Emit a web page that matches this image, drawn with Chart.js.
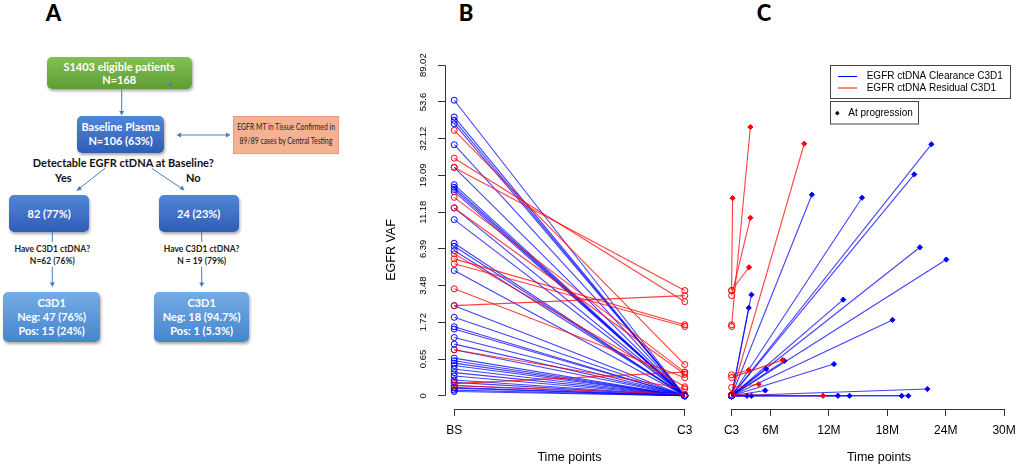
<!DOCTYPE html>
<html><head><meta charset="utf-8">
<script src="https://cdn.jsdelivr.net/npm/chart.js@4.4.1/dist/chart.umd.min.js"></script>
<style>
html,body{margin:0;padding:0;background:#fff;}
#root{position:relative;width:1020px;height:465px;overflow:hidden;font-family:Lato,'Open Sans',sans-serif;}
.t{position:absolute;transform:translate(-50%,-50%);white-space:nowrap;line-height:1;}
.box{position:absolute;display:flex;flex-direction:column;align-items:center;justify-content:center;color:#fff;font-weight:700;font-size:11px;border-radius:5px;box-shadow:1px 2px 3px rgba(0,0,0,.35);text-align:center;white-space:nowrap;}
.green{background:linear-gradient(#84bf52,#5f9e36);}
.dblue{background:linear-gradient(#5286d8,#2f5db5);}
.lblue{background:linear-gradient(#74ace6,#4585cd);}
.orange{background:#f6b190;border:1px solid #e59f7e;border-radius:0;box-shadow:none;color:#222;font-weight:400;font-size:8.6px;}
.orange span{display:inline-block;transform:scaleX(0.8);}
.panel{font-family:Lato,sans-serif;font-weight:900;font-size:22px;color:#000;}
canvas{position:absolute;}
</style></head>
<body><div id="root">
  <div class="t panel" style="left:53.5px;top:13px">A</div>
  <div class="t panel" style="left:466px;top:13px">B</div>
  <div class="t panel" style="left:764px;top:13px">C</div>

  <div class="box green" style="left:46.7px;top:57.3px;width:145px;height:32px;line-height:13.6px;">S1403 eligible patients<br>N=168</div>
  <div class="box dblue" style="left:77.3px;top:115.7px;width:86.7px;height:37px;line-height:14px;">Baseline Plasma<br>N=106 (63%)</div>
  <div class="box orange" style="left:232.7px;top:115.5px;width:104px;height:36px;line-height:13.4px;"><span>EGFR MT in Tissue Confirmed in</span><span>89/89 cases by Central Testing</span></div>
  <div class="t" style="left:123.3px;top:161.7px;font-weight:700;font-size:11px;color:#111;">Detectable EGFR ctDNA at Baseline?</div>
  <div class="t" style="left:63.3px;top:177px;font-weight:700;font-size:11px;color:#111;">Yes</div>
  <div class="t" style="left:193.3px;top:177px;font-weight:700;font-size:11px;color:#111;">No</div>
  <div class="box dblue" style="left:9.3px;top:195px;width:79.7px;height:36.7px;">82 (77%)</div>
  <div class="box dblue" style="left:158.7px;top:195px;width:80px;height:36.7px;">24 (23%)</div>
  <div class="t" style="left:52.3px;top:249px;font-weight:700;font-size:8.5px;color:#222;">Have C3D1 ctDNA?</div>
  <div class="t" style="left:52.3px;top:260.7px;font-weight:700;font-size:8.5px;color:#222;">N=62 (76%)</div>
  <div class="t" style="left:201.7px;top:249px;font-weight:700;font-size:8.5px;color:#222;">Have C3D1 ctDNA?</div>
  <div class="t" style="left:201.7px;top:260.7px;font-weight:700;font-size:8.5px;color:#222;">N = 19 (79%)</div>
  <div class="box lblue" style="left:3.3px;top:291.7px;width:96.7px;height:50px;line-height:14px;">C3D1<br>Neg: 47 (76%)<br>Pos: 15 (24%)</div>
  <div class="box lblue" style="left:154px;top:291.7px;width:95.3px;height:50px;line-height:14px;">C3D1<br>Neg: 18 (94.7%)<br>Pos: 1 (5.3%)</div>

  <svg width="380" height="465" style="position:absolute;left:0;top:0;" xmlns="http://www.w3.org/2000/svg">
    <g stroke="#4a7ebb" stroke-width="1" fill="none">
      <line x1="121.7" y1="89.3" x2="121.7" y2="112"/>
      <line x1="180" y1="135" x2="227" y2="135"/>
      <line x1="105" y1="168.3" x2="80" y2="188"/>
      <line x1="151.7" y1="168.3" x2="181" y2="188"/>
      <line x1="52.3" y1="231.7" x2="52.3" y2="242"/>
      <line x1="52.3" y1="266.7" x2="52.3" y2="283"/>
      <line x1="201.7" y1="231.7" x2="201.7" y2="242"/>
      <line x1="201.7" y1="266.7" x2="201.7" y2="283"/>
    </g>
    <g fill="#4a7ebb">
      <polygon points="119.2,111 124.2,111 121.7,115.5"/>
      <polygon points="176.5,135 181,132.5 181,137.5"/>
      <polygon points="230.5,135 226,132.5 226,137.5"/>
      <polygon points="76.5,191 79,186 82,189.5"/>
      <polygon points="184.5,190.5 179.5,189 182.5,185.5"/>
      <polygon points="49.8,282.5 54.8,282.5 52.3,287"/>
      <polygon points="199.2,282.5 204.2,282.5 201.7,287"/>
      <polygon points="167,85 172,82.5 172,87.5"/>
    </g>
  </svg>

  <canvas id="cb" width="320" height="425" style="left:380px;top:40px;width:320px;height:425px;"></canvas>
  <canvas id="cc" width="320" height="425" style="left:700px;top:40px;width:320px;height:425px;"></canvas>
</div>
<script>
// ---------- data ----------
// Y axis: EGFR VAF (%), plotted on log(1+VAF) scale
const yTickVals   = [0, 0.5, 1, 1.5, 2, 2.5, 3, 3.5, 4, 4.5];
const yTickLabels = ['0','0.65','1.72','3.48','6.39','11.18','19.09','32.12','53.6','89.02'];
// Panel B
const bTimeVals   = [1, 2];
const bTimeLabels = ['BS', 'C3'];
const bsRed  = [36.1, 24.4, 21.4, 13.9, 11.9, 5.90, 5.45, 5.03, 3.29, 2.41, 0.87, 0.18, 0.15];
const c3Red  = [0.53, 2.60, 3.19, 0.38, 0.34, 0.13, 1.63, 1.57, 0.28, 2.91, 0.10, 0.38, 0.02];
const bsBlue = [54.9, 43.5, 41.5, 39.6, 29.5, 21.4, 16.7, 16.1, 15.6, 15.1, 11.9, 10.0, 6.98, 6.66, 6.22, 4.50,
                2.41, 1.91, 1.56, 1.48, 1.21, 1.02, 0.87, 0.67, 0.61, 0.56, 0.51, 0.44, 0.37, 0.31, 0.24, 0.20,
                0.15, 0.12, 0.11, 0.08, 0.06];
// Panel C (months)
const cTickVals   = [2, 6, 12, 18, 24, 30];
const cTickLabels = ['C3', '6M', '12M', '18M', '24M', '30M'];
const c3Month = 2;
const progBlueMonth = [10.25, 15.40, 22.53, 20.77, 21.35, 24.06, 4.04, 3.76, 13.47, 18.53, 7.43, 5.56, 12.52, 5.46, 22.12, 3.59, 4.04, 12.93, 14.12, 19.47, 20.16];
const progBlueVaf   = [14.44, 13.82, 29.66, 19.37, 6.55, 5.39, 2.96, 2.31, 2.70, 1.81, 0.61, 0.44, 0.54, 0.075, 0.096, 0, 0, 0, 0, 0, 0];
const progRedStart  = [1.63, 3.19, 3.19, 2.91, 0.33, 0.28, 0.12, 0.014, 0.014];
const progRedMonth  = [3.93, 2.10, 3.79, 3.93, 3.76, 7.25, 4.78, 9.46, 11.40];
const progRedVaf    = [37.8, 13.74, 4.75, 10.28, 0.42, 0.63, 0.17, 29.9, 0];
const c3RedNoProg   = [1.57];

// ---------- styles ----------
const BLUE = 'rgba(0,0,255,0.75)', RED = 'rgba(255,0,0,0.75)';
const BLUE_S = '#0000ff', RED_S = '#ff0000';
const FONT = '"Liberation Sans", Arial, sans-serif';
const T = v => Math.log1p(v);

function lineDs(points, color, solid, styles, fills) {
  return { data: points, borderColor: color, borderWidth: 1.1, tension: 0, fill: false,
    pointRadius: styles.map(s => s === 'circle' ? 3 : 2.6),
    pointStyle: styles, pointBorderColor: solid, pointBorderWidth: 1,
    pointBackgroundColor: fills };
}

function xAxis(vals, labels, min, max) {
  return { type: 'linear', min, max, position: 'bottom',
    afterBuildTicks: s => { s.ticks = vals.map(v => ({ value: v })); },
    afterFit: s => { s.height = 56; s.paddingLeft = 0; s.paddingRight = 0; },
    ticks: { autoSkip: false, minRotation: 0, maxRotation: 0, padding: 7, color: '#000',
      font: { family: FONT, size: 12 }, callback: (v, i) => labels[i] },
    grid: { display: true, drawOnChartArea: false, drawTicks: true, tickLength: 7, color: '#333', lineWidth: 1 },
    border: { display: false } };
}

// ---------- Panel B ----------
const dsB = [];
bsRed.forEach((v, i) => dsB.push(lineDs([{x: bTimeVals[0], y: T(v)}, {x: bTimeVals[1], y: T(c3Red[i])}],
  RED, RED_S, ['circle','circle'], ['rgba(0,0,0,0)','rgba(0,0,0,0)'])));
bsBlue.forEach(v => dsB.push(lineDs([{x: bTimeVals[0], y: T(v)}, {x: bTimeVals[1], y: 0}],
  BLUE, BLUE_S, ['circle','circle'], ['rgba(0,0,0,0)','rgba(0,0,0,0)'])));

const axesB = {
  id: 'axesB',
  afterDraw(chart) {
    const ctx = chart.ctx, xs = chart.scales.x, ys = chart.scales.y, ca = chart.chartArea;
    ctx.save();
    ctx.strokeStyle = '#333'; ctx.lineWidth = 1;
    const x0 = Math.round(ca.left) + 0.5;
    ctx.beginPath();
    ctx.moveTo(x0, ys.getPixelForValue(yTickVals[0]));
    ctx.lineTo(x0, ys.getPixelForValue(yTickVals[yTickVals.length - 1]));
    ctx.stroke();
    const yb = Math.round(ca.bottom) + 0.5;
    ctx.beginPath();
    ctx.moveTo(xs.getPixelForValue(bTimeVals[0]), yb);
    ctx.lineTo(xs.getPixelForValue(bTimeVals[bTimeVals.length - 1]), yb);
    ctx.stroke();
    ctx.fillStyle = '#000'; ctx.textAlign = 'center'; ctx.textBaseline = 'middle';
    ctx.font = '9.5px ' + FONT;
    yTickVals.forEach((v, i) => {
      ctx.save(); ctx.translate(ca.left - 22, ys.getPixelForValue(v)); ctx.rotate(-Math.PI / 2);
      ctx.fillText(yTickLabels[i], 0, 0); ctx.restore();
    });
    ctx.font = '12.5px ' + FONT;
    ctx.save(); ctx.translate(12, 210); ctx.rotate(-Math.PI / 2); ctx.fillText('EGFR VAF', 0, 0); ctx.restore();
    ctx.fillText('Time points', (ca.left + ca.right) / 2, 418);
    ctx.restore();
  }
};

new Chart(document.getElementById('cb'), {
  type: 'line',
  data: { datasets: dsB },
  options: {
    responsive: false, animation: false, devicePixelRatio: 1,
    layout: { padding: { left: 0, right: 6, top: 12, bottom: 0 } },
    plugins: { legend: { display: false }, tooltip: { enabled: false } },
    scales: {
      x: xAxis(bTimeVals, bTimeLabels, 0.96, 2.04),
      y: { type: 'linear', min: -0.18, max: 4.68, position: 'left',
        afterBuildTicks: s => { s.ticks = yTickVals.map(v => ({ value: v })); },
        afterFit: s => { s.width = 65; s.paddingTop = 0; s.paddingBottom = 0; },
        ticks: { display: false },
        grid: { display: true, drawOnChartArea: false, drawTicks: true, tickLength: 7, color: '#333' },
        border: { display: false } }
    }
  },
  plugins: [axesB]
});

// ---------- Panel C ----------
const dsC = [];
progRedStart.forEach((v, i) => dsC.push(lineDs([{x: c3Month, y: T(v)}, {x: progRedMonth[i], y: T(progRedVaf[i])}],
  RED, RED_S, ['circle','rectRot'], ['rgba(0,0,0,0)', RED_S])));
c3RedNoProg.forEach(v => dsC.push(lineDs([{x: c3Month, y: T(v)}], RED, RED_S, ['circle'], ['rgba(0,0,0,0)'])));
progBlueMonth.forEach((m, i) => dsC.push(lineDs([{x: c3Month, y: 0}, {x: m, y: T(progBlueVaf[i])}],
  BLUE, BLUE_S, ['circle','rectRot'], ['rgba(0,0,0,0)', BLUE_S])));

const axesC = {
  id: 'axesC',
  afterDraw(chart) {
    const ctx = chart.ctx, xs = chart.scales.x, ca = chart.chartArea;
    ctx.save();
    ctx.strokeStyle = '#333'; ctx.lineWidth = 1;
    const yb = Math.round(ca.bottom) + 0.5;
    ctx.beginPath();
    ctx.moveTo(xs.getPixelForValue(cTickVals[0]), yb);
    ctx.lineTo(xs.getPixelForValue(cTickVals[cTickVals.length - 1]), yb);
    ctx.stroke();
    ctx.fillStyle = '#000'; ctx.textAlign = 'center'; ctx.textBaseline = 'middle';
    ctx.font = '12.5px ' + FONT;
    ctx.fillText('Time points', 179, 418);
    // legend
    ctx.strokeStyle = '#444';
    ctx.strokeRect(130.5, 25.5, 180, 33);
    ctx.strokeRect(130.5, 61.5, 88, 22.5);
    ctx.lineWidth = 1;
    ctx.strokeStyle = BLUE_S; ctx.beginPath(); ctx.moveTo(138, 36.5); ctx.lineTo(157, 36.5); ctx.stroke();
    ctx.strokeStyle = RED_S;  ctx.beginPath(); ctx.moveTo(138, 48); ctx.lineTo(157, 48); ctx.stroke();
    ctx.font = '10px ' + FONT; ctx.textAlign = 'left';
    ctx.fillText('EGFR ctDNA Clearance C3D1', 166.7, 36.5);
    ctx.fillText('EGFR ctDNA Residual C3D1', 166.7, 48);
    ctx.fillStyle = '#000';
    ctx.beginPath(); ctx.moveTo(137.3, 70.8); ctx.lineTo(139.6, 73.2); ctx.lineTo(137.3, 75.6); ctx.lineTo(135, 73.2); ctx.closePath(); ctx.fill();
    ctx.fillText('At progression', 148.3, 73.2);
    ctx.restore();
  }
};

new Chart(document.getElementById('cc'), {
  type: 'line',
  data: { datasets: dsC },
  options: {
    responsive: false, animation: false, devicePixelRatio: 1,
    layout: { padding: { left: 20.7, right: 2.3, top: 12, bottom: 0 } },
    plugins: { legend: { display: false }, tooltip: { enabled: false } },
    scales: {
      x: xAxis(cTickVals, cTickLabels, 0.88, 31.12),
      y: { type: 'linear', min: -0.18, max: 4.68, display: false }
    }
  },
  plugins: [axesC]
});
</script>
</body></html>
